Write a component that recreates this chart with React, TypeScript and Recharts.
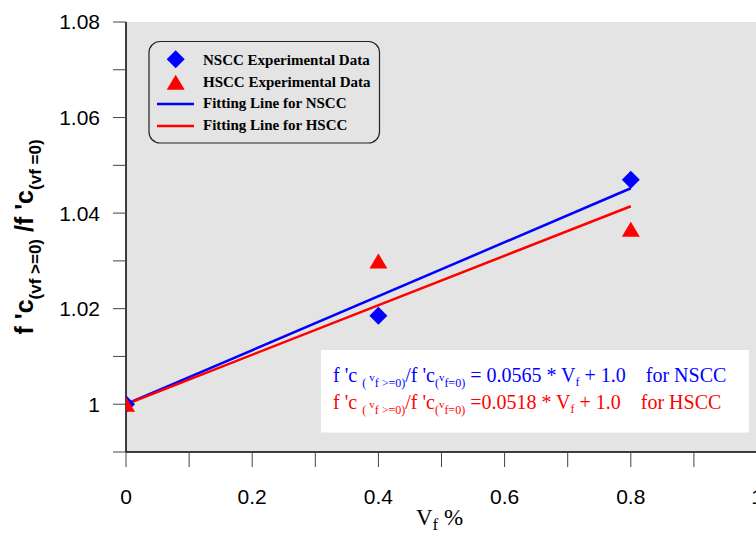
import React from 'react';
import { ScatterChart, Scatter, XAxis, YAxis, CartesianGrid, Label } from 'recharts';

const nsccX = [0, 0.4, 0.8];
const nsccY = [1.0, 1.0185, 1.047];
const hsccX = [0, 0.4, 0.8];
const hsccY = [1.0, 1.03, 1.0366];
const fitX = [0, 0.8];
const fitNsccY = [1.0, 1.0452];
const fitHsccY = [1.0, 1.04144];

const xTicks = [0, 0.1, 0.2, 0.3, 0.4, 0.5, 0.6, 0.7, 0.8, 0.9, 1.0];
const xTickLabels = ['0', '', '0.2', '', '0.4', '', '0.6', '', '0.8', '', '1'];
const yTicks = [0.99, 1.0, 1.01, 1.02, 1.03, 1.04, 1.05, 1.06, 1.07, 1.08];
const yTickLabels = ['', '1', '', '1.02', '', '1.04', '', '1.06', '', '1.08'];

const legendLabels = [
  'NSCC Experimental Data',
  'HSCC Experimental Data',
  'Fitting Line for NSCC',
  'Fitting Line for HSCC',
];

const BLUE = '#0000ff';
const RED = '#ff0000';
const SANS = "'Liberation Sans', Arial, sans-serif";
const SERIF = "'Liberation Serif', 'Times New Roman', serif";

const toPts = (xs: number[], ys: number[]) => xs.map((x, i) => ({ x, y: ys[i] }));
const nsccData = toPts(nsccX, nsccY);
const hsccData = toPts(hsccX, hsccY);
const fitNData = toPts(fitX, fitNsccY);
const fitHData = toPts(fitX, fitHsccY);

const Diamond = (props: any) => {
  const { cx, cy } = props;
  const r = 9;
  return <polygon points={`${cx},${cy - r} ${cx + r},${cy} ${cx},${cy + r} ${cx - r},${cy}`} fill={BLUE} />;
};

const Triangle = (props: any) => {
  const { cx, cy } = props;
  const w = 9, h = 7.5;
  return <polygon points={`${cx},${cy - h} ${cx + w},${cy + h} ${cx - w},${cy + h}`} fill={RED} />;
};

const NoShape = () => <g />;

const YLabel = (props: any) => {
  const vb = props.viewBox;
  const cx = vb.x + 33;
  const cy = vb.y + vb.height / 2;
  return (
    <text
      x={cx}
      y={cy}
      transform={`rotate(-90 ${cx} ${cy})`}
      textAnchor="middle"
      fontFamily={SANS}
      fontWeight="bold"
      fontSize={25}
      fill="#000"
      style={{ whiteSpace: 'pre' }}
    >
      <tspan>f 'c</tspan>
      <tspan fontSize={17} dy={8}>(vf &gt;=0)</tspan>
      <tspan dy={-8}> /f 'c</tspan>
      <tspan fontSize={17} dy={8}>(vf =0)</tspan>
    </text>
  );
};

const XLabel = (props: any) => {
  const vb = props.viewBox;
  const cx = vb.x + vb.width / 2 - 2;
  const y = vb.y + 73;
  return (
    <text x={cx} y={y} textAnchor="middle" fontFamily={SERIF} fontSize={23} fill="#000" style={{ whiteSpace: 'pre' }}>
      <tspan>V</tspan>
      <tspan fontSize={17} dy={5}>f</tspan>
      <tspan dy={-5}> %</tspan>
    </text>
  );
};

const EqLine = ({ y, color, coef, name, spaceBefore }: any) => (
  <text x={333} y={y} fontFamily={SERIF} fontSize={20} fill={color} style={{ whiteSpace: 'pre' }}>
    <tspan>f 'c </tspan>
    <tspan fontSize={12} dy={5}>( </tspan>
    <tspan fontSize={11} dy={-6}>v</tspan>
    <tspan fontSize={12} dy={6}>f &gt;=0)</tspan>
    <tspan dy={-5}>/f 'c</tspan>
    <tspan fontSize={12} dy={5}>(</tspan>
    <tspan fontSize={11} dy={-6}>v</tspan>
    <tspan fontSize={12} dy={6}>f=0)</tspan>
    <tspan dy={-5}>{spaceBefore + coef + ' * V'}</tspan>
    <tspan fontSize={12} dy={4}>f</tspan>
    <tspan dy={-4}>{' + 1.0    for ' + name}</tspan>
  </text>
);

export default function App() {
  return (
    <div style={{ position: 'absolute', left: 0, top: 0, width: 756, height: 537, overflow: 'hidden', background: '#fff' }}>
      <ScatterChart width={780} height={537} margin={{ top: 22, right: 23, bottom: 0, left: 0 }}>
        <CartesianGrid horizontal={false} vertical={false} fill="#e4e4e4" fillOpacity={1} stroke="none" />
        <XAxis
          type="number"
          dataKey="x"
          domain={[0, 1]}
          ticks={xTicks}
          interval={0}
          allowDataOverflow
          height={85}
          tickSize={15}
          tickMargin={22}
          tickFormatter={(v: number, i: number) => xTickLabels[i]}
          tick={{ fill: '#000', fontSize: 21, fontFamily: SANS }}
          axisLine={{ stroke: '#000', strokeWidth: 1.5 }}
          tickLine={{ stroke: '#444', strokeWidth: 1 }}
        >
          <Label content={XLabel} position="insideBottom" />
        </XAxis>
        <YAxis
          type="number"
          dataKey="y"
          domain={[0.99, 1.08]}
          ticks={yTicks}
          interval={0}
          allowDataOverflow
          width={126}
          tickSize={13}
          tickMargin={13}
          tickFormatter={(v: number, i: number) => yTickLabels[i]}
          tick={{ fill: '#000', fontSize: 21, fontFamily: SANS }}
          axisLine={{ stroke: '#000', strokeWidth: 1.5 }}
          tickLine={{ stroke: '#444', strokeWidth: 1 }}
        >
          <Label content={YLabel} position="insideLeft" />
        </YAxis>
        <Scatter name={legendLabels[2]} data={fitNData} line={{ stroke: BLUE, strokeWidth: 2.5 }} shape={NoShape} isAnimationActive={false} />
        <Scatter name={legendLabels[3]} data={fitHData} line={{ stroke: RED, strokeWidth: 2.5 }} shape={NoShape} isAnimationActive={false} />
        <Scatter name={legendLabels[0]} data={nsccData} shape={Diamond} isAnimationActive={false} />
        <Scatter name={legendLabels[1]} data={hsccData} shape={Triangle} isAnimationActive={false} />
      </ScatterChart>
      <svg width={756} height={537} style={{ position: 'absolute', left: 0, top: 0, pointerEvents: 'none' }}>
        <rect x={149} y={41.5} width={230.5} height={101.5} rx={11} fill="none" stroke="#222" strokeWidth={1.2} />
        <Diamond cx={175.7} cy={59.3} />
        <Triangle cx={175.7} cy={82.2} />
        <line x1={157} x2={194} y1={104} y2={104} stroke={BLUE} strokeWidth={2.5} />
        <line x1={157} x2={194} y1={126} y2={126} stroke={RED} strokeWidth={2.5} />
        {legendLabels.map((t, i) => (
          <text key={t} x={203} y={65 + i * 21.7} fontFamily={SERIF} fontWeight="bold" fontSize={15} fill="#000">
            {t}
          </text>
        ))}
        <rect x={321} y={350} width={428} height={82.5} fill="#fff" />
        <EqLine y={382} color={BLUE} coef="0.0565" name="NSCC" spaceBefore=" = " />
        <EqLine y={408.5} color={RED} coef="0.0518" name="HSCC" spaceBefore=" =" />
      </svg>
    </div>
  );
}
